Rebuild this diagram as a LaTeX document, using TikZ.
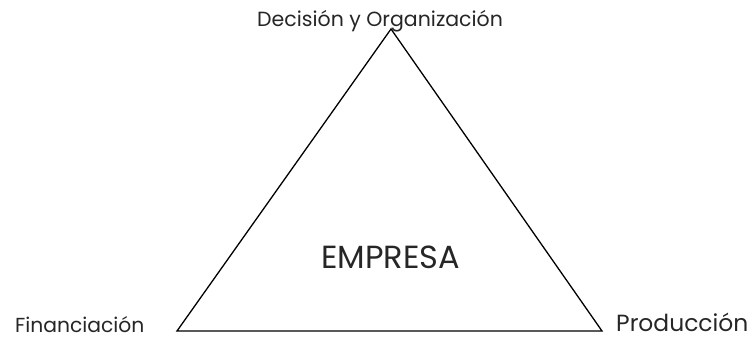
\documentclass[tikz,border=0pt]{standalone}
\usepackage{fontspec}
\setmainfont{Poppins}
\begin{document}
\begin{tikzpicture}[x=1pt,y=-1pt,
  lbl/.style={inner sep=0pt,anchor=base west,text=black!85,text depth=0pt}]
\useasboundingbox (0,0) rectangle (752,340);
\coordinate (A) at (391,29);
\coordinate (B) at (177,331);
\coordinate (C) at (602,331);
\draw[line width=1.3pt,line join=miter] (A) -- (B) -- (C) -- cycle;
\node[lbl,font=\fontsize{20.5}{24}\selectfont] (dec) at (257,27) {Decisión y Organización};
\node[lbl,font=\fontsize{20.3}{24}\selectfont] (fin) at (15,332) {Financiación};
\node[lbl,font=\fontsize{23.4}{28}\selectfont] (pro) at (616,331) {Producción};
\node[lbl,font=\fontsize{32}{36}\selectfont] (emp) at (321,268) {EMPRESA};
\end{tikzpicture}
\end{document}
